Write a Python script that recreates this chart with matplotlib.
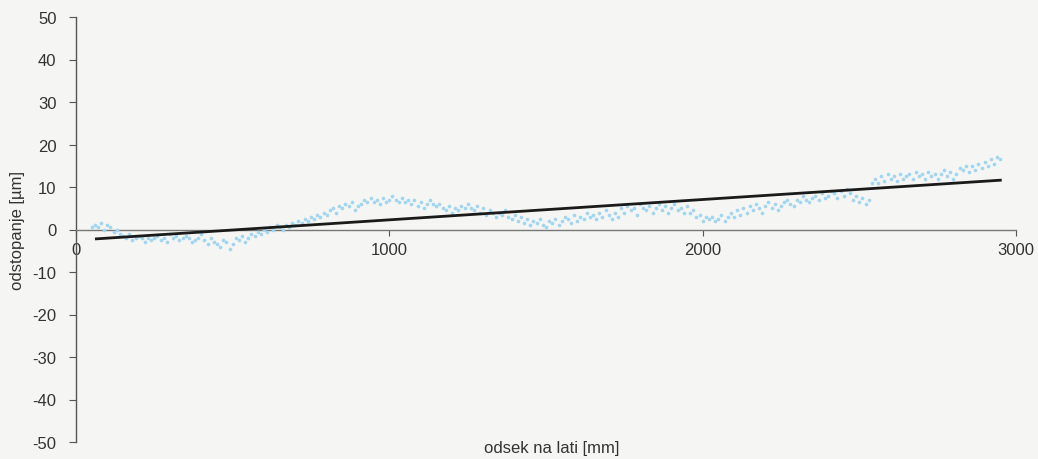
import numpy as np
import matplotlib
matplotlib.use("Agg")
import matplotlib.pyplot as plt

plt.rcParams['font.family'] = ['Liberation Sans', 'DejaVu Sans']

# measured deviation [um] every 10 mm, from 50 mm to 2950 mm
pos_mm = list(range(50, 2960, 10))
dev_um = [
    0.5, 1, 0.5, 1.5, 0, 1, 0.5, -0.5, 0, -1,
    -1.5, -2, -1, -2.5, -2, -1.5, -2, -3, -2, -2.5,
    -2, -1.5, -2.5, -2, -3, -1, -2, -1.5, -2.5, -2,
    -1.5, -2, -3, -2.5, -2, -1, -2.5, -3.5, -2, -3,
    -3.5, -4, -2.5, -3, -4.5, -3.5, -2, -2.5, -1.5, -3,
    -2, -1, -1.5, -0.5, -1, 0, -0.5, 0.5, 0, 1,
    0.5, 0, 1, 0.5, 1.5, 1, 2, 1.5, 2.5, 2,
    3, 2.5, 3.5, 3, 4, 3.5, 4.5, 5, 4, 5.5,
    5, 6, 5.5, 6.5, 4.5, 5.5, 6, 7, 6.5, 7.5,
    6.5, 7, 6, 7.5, 6.5, 7, 8, 7, 6.5, 7.5,
    6.5, 7, 6, 7, 5.5, 6.5, 5, 6, 7, 6,
    5.5, 6, 5, 4.5, 5.5, 4, 5, 4.5, 5.5, 5,
    6, 5, 4.5, 5.5, 4, 5, 3.5, 4.5, 4, 3,
    4, 3.5, 4.5, 3, 2.5, 3.5, 2, 3, 1.5, 2.5,
    1, 2, 1.5, 2.5, 1, 0.5, 2, 1.5, 2.5, 1,
    2, 3, 2.5, 1.5, 3.5, 2, 3, 2.5, 4, 3,
    3.5, 2.5, 4, 3, 4.5, 3.5, 2.5, 4, 3, 5,
    4, 5.5, 4.5, 5, 3.5, 6, 5, 4.5, 5.5, 4,
    5, 6, 4.5, 5.5, 4, 5, 6, 4.5, 5, 4,
    5.5, 4, 4.5, 3, 3.5, 2, 3, 2.5, 3, 2,
    2.5, 3.5, 2, 3, 4, 3, 4.5, 3.5, 5, 4,
    5.5, 4.5, 6, 5, 4, 5.5, 6.5, 5, 6, 4.5,
    5.5, 6.5, 7, 6, 5.5, 7, 6.5, 8, 7, 6.5,
    7.5, 8, 7, 8.5, 7.5, 8, 9, 8.5, 7.5, 9,
    8, 9.5, 8.5, 7, 8, 6.5, 7.5, 6, 7, 11,
    12, 11, 12.5, 11.5, 13, 12, 12.5, 11.5, 13, 12,
    12.5, 13, 12, 13.5, 12.5, 13, 12, 13.5, 12.5, 13,
    12, 13, 14, 12.5, 13.5, 12, 13, 14.5, 14, 15,
    13.5, 15, 14, 15.5, 14.5, 16, 15, 16.5, 15.5, 17,
    16.5,
]

# linear trend line end points
trend_x = [65, 2950]
trend_y = [-2.2, 11.6]

x_ticks = [0, 1000, 2000, 3000]
y_ticks = [-50, -40, -30, -20, -10, 0, 10, 20, 30, 40, 50]

bg = '#f5f5f3'
fig = plt.figure(figsize=(10.38, 4.60), dpi=100, facecolor=bg)
ax = fig.add_axes([76/1038, 17/460, 940/1038, 425/460])
ax.set_facecolor(bg)

ax.scatter(pos_mm, dev_um, s=7, marker='o', color='#a3d6ee', linewidths=0, zorder=3)
ax.plot(trend_x, trend_y, color='#1a1a1a', lw=2.0, zorder=4)

ax.set_xlim(0, 3000)
ax.set_ylim(-50, 50)

ax.spines['top'].set_visible(False)
ax.spines['right'].set_visible(False)
ax.spines['left'].set_position(('data', 0))
ax.spines['bottom'].set_position(('data', 0))
ax.spines['left'].set_color('#555555')
ax.spines['bottom'].set_color('#777777')
ax.spines['left'].set_linewidth(1.0)
ax.spines['bottom'].set_linewidth(1.0)

ax.set_xticks(x_ticks)
ax.set_yticks(y_ticks)
ax.set_xticklabels([str(v) for v in x_ticks])
ax.set_yticklabels([str(v) for v in y_ticks])
ax.tick_params(axis='x', direction='out', length=4, color='#555555', labelsize=12,
               labelcolor='#333333', pad=5)
ax.tick_params(axis='y', direction='out', length=5, color='#555555', labelsize=12,
               labelcolor='#333333', pad=9)

fig.text(18/1038, 1 - 230/460, 'odstopanje [µm]', rotation=90, ha='center', va='center',
         fontsize=12, color='#333333')
fig.text(552/1038, 1 - 449/460, 'odsek na lati [mm]', ha='center', va='center',
         fontsize=12, color='#333333')

fig.savefig('out.png', dpi=100, facecolor=bg)
